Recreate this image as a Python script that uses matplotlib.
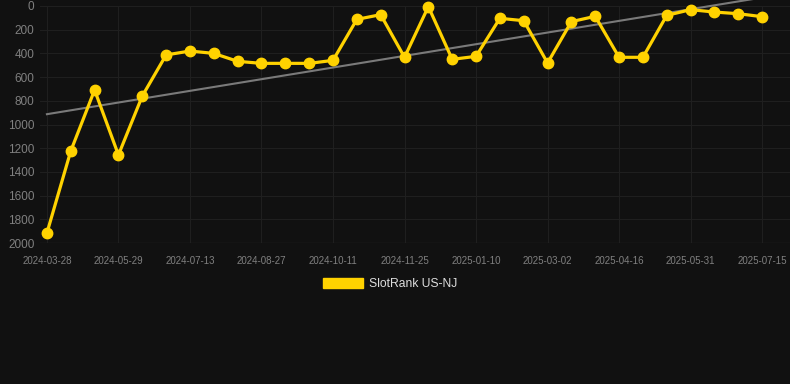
import numpy as np
import matplotlib
matplotlib.use("Agg")
import matplotlib.pyplot as plt
from matplotlib.patches import Patch

plt.rcParams['font.family'] = ['Liberation Sans', 'DejaVu Sans']

# Data (rank, lower is better), one point per sample
ranks = [1916, 1224, 709, 1257, 760, 413, 380, 400, 467, 484, 484, 484, 459,
         113, 73, 433, 5, 450, 425, 104, 124, 481, 132, 87, 433, 433, 79, 31,
         51, 65, 90]
tick_labels = ["2024-03-28", "2024-05-29", "2024-07-13", "2024-08-27",
               "2024-10-11", "2024-11-25", "2025-01-10", "2025-03-02",
               "2025-04-16", "2025-05-31", "2025-07-15"]
tick_step = 3
series_name = "SlotRank US-NJ"

bg = "#111111"
yellow = "#FFD200"

fig = plt.figure(figsize=(7.9, 3.84), dpi=100, facecolor=bg)
ax = fig.add_axes([40 / 790, 1 - 243 / 384, 750 / 790, 237 / 384])
ax.set_facecolor(bg)

x = np.arange(len(ranks))
y = np.array(ranks, dtype=float)

# trend line (least squares)
k, b = np.polyfit(x, y, 1)
ax.plot(x, k * x + b, color="#7a7a7a", lw=1.5, zorder=2, clip_on=False)

ax.plot(x, y, color=yellow, lw=2.3, marker="o", markersize=7.5, zorder=3,
        clip_on=False)

ax.set_ylim(2000, 0)
ax.set_xlim(-0.29, 31.17)
ax.set_yticks(np.arange(0, 2001, 200))
ax.set_xticks(x[::tick_step])
ax.set_xticklabels(tick_labels)

ax.grid(True, color="#1f1f1f", lw=0.72)
ax.set_axisbelow(True)
for s in ax.spines.values():
    s.set_visible(False)
ax.axhline(2000, color="#2a2a2a", lw=0.9, zorder=1)

ax.tick_params(axis="y", length=0, pad=4, labelsize=8.5, labelcolor="#808080")
ax.tick_params(axis="x", length=0, pad=9, labelsize=7, labelcolor="#808080")

handle = Patch(facecolor=yellow, edgecolor=yellow)
leg = fig.legend([handle], [series_name], loc="center",
                 bbox_to_anchor=(390 / 790, 1 - 284 / 384), frameon=False,
                 fontsize=8.7, handlelength=3.3, handleheight=0.9,
                 handletextpad=0.5, labelcolor="#dddddd")

fig.savefig("out.png", dpi=100, facecolor=bg)
